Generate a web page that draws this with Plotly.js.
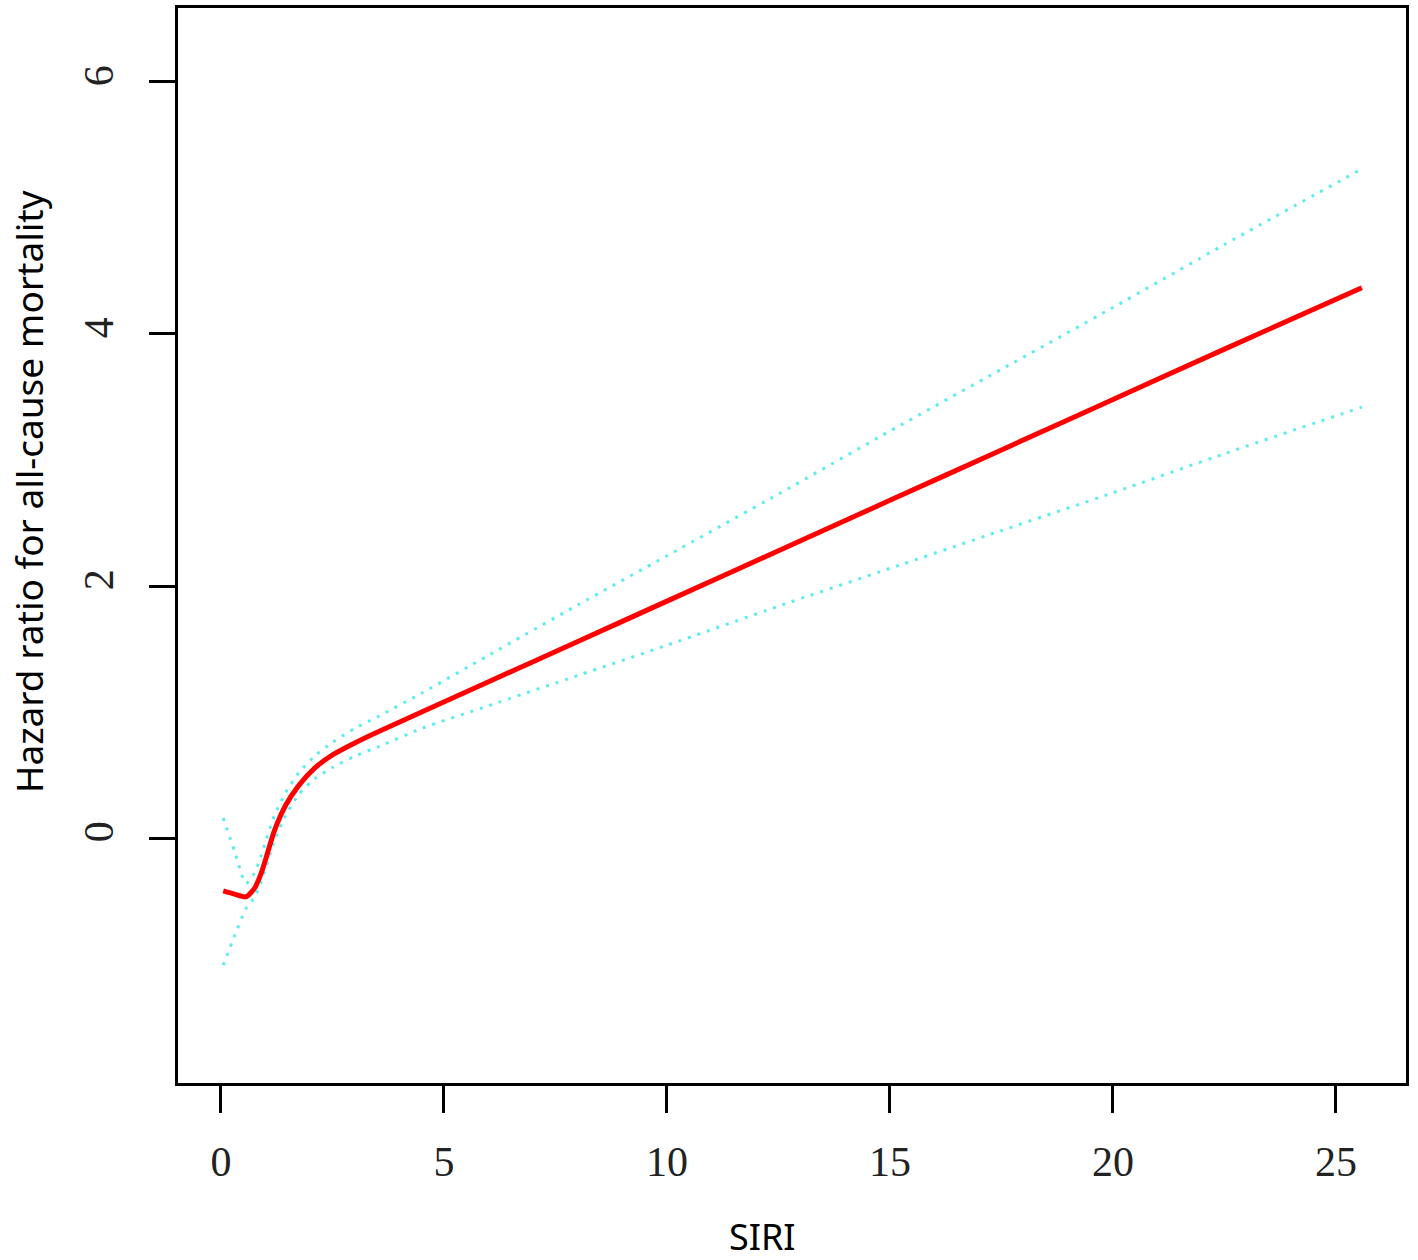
<!DOCTYPE html>
<html>
<head>
<meta charset="utf-8">
<script src="https://cdn.plot.ly/plotly-3.0.1.min.js"></script>
<style>html,body{margin:0;padding:0;background:#fff;}#chart{width:1418px;height:1260px;}</style>
</head>
<body>
<div id="chart"></div>
<script>
// SIRI values
const siri = [0.05, 0.3, 0.56, 0.75, 0.9, 1.0, 1.2, 1.45, 1.75, 2.1, 2.5, 3.0, 3.5, 4.5, 6, 8, 10, 12.5, 15, 17.5, 20, 22.5, 25.58];
// Hazard ratio estimate
const hr = [-0.42, -0.445, -0.466, -0.40, -0.28, -0.17, 0.06, 0.26, 0.42, 0.555, 0.66, 0.755, 0.84, 1.0, 1.24, 1.56, 1.88, 2.28, 2.68, 3.08, 3.48, 3.88, 4.367];
// Upper confidence bound
const upper = [0.16, -0.1, -0.36, -0.28, -0.14, -0.03, 0.18, 0.36, 0.52, 0.65, 0.76, 0.87, 0.96, 1.15, 1.45, 1.85, 2.24, 2.73, 3.23, 3.72, 4.21, 4.71, 5.31];
// Lower confidence bound
const lower = [-1.01, -0.78, -0.56, -0.47, -0.35, -0.24, -0.02, 0.18, 0.35, 0.47, 0.56, 0.65, 0.72, 0.87, 1.05, 1.29, 1.53, 1.84, 2.14, 2.44, 2.74, 3.05, 3.42];
const xTicks = [0, 5, 10, 15, 20, 25];
const yTicks = [0, 2, 4, 6];
const xTitle = "SIRI";
const yTitle = "Hazard ratio for all-cause mortality";

const ciLine = {color: '#5fecec', width: 3, dash: '3px,7px', shape: 'spline', smoothing: 0.6};
const traces = [
  {x: siri, y: upper, mode: 'lines', line: ciLine, hoverinfo: 'skip', name: 'Upper'},
  {x: siri, y: lower, mode: 'lines', line: ciLine, hoverinfo: 'skip', name: 'Lower'},
  {x: siri, y: hr, mode: 'lines', line: {color: '#ff0000', width: 5, shape: 'spline', smoothing: 0.6}, name: 'HR'}
];
const tickFont = {family: 'Liberation Serif, serif', size: 42, color: '#222'};
const layout = {
  width: 1418, height: 1260,
  margin: {l: 178, r: 12, t: 8, b: 177},
  paper_bgcolor: '#fff', plot_bgcolor: '#fff',
  showlegend: false,
  xaxis: {
    range: [-0.964, 26.57], tickvals: xTicks, ticktext: xTicks.map(String),
    ticks: 'outside', ticklen: 27, tickwidth: 3, tickcolor: '#000',
    showline: true, mirror: true, linewidth: 3, linecolor: '#000',
    showgrid: false, zeroline: false, tickfont: tickFont, ticklabelstandoff: 13
  },
  yaxis: {
    range: [-1.944, 6.587], tickvals: yTicks, ticktext: yTicks.map(String),
    ticks: 'outside', ticklen: 26, tickwidth: 3, tickcolor: '#000',
    showline: true, mirror: true, linewidth: 3, linecolor: '#000',
    showgrid: false, zeroline: false, tickfont: tickFont, tickangle: -90, ticklabelstandoff: 19
  },
  annotations: [
    {text: xTitle, xref: 'paper', yref: 'paper', x: (762-178)/1228, y: -(1236-1083)/1075, xanchor: 'center', yanchor: 'middle', showarrow: false, font: {family: 'Noto Sans, sans-serif', size: 36, color: '#000'}},
    {text: yTitle, xref: 'paper', yref: 'paper', x: -(178-28)/1228, y: (1083-492)/1075, xanchor: 'center', yanchor: 'middle', textangle: -90, showarrow: false, font: {family: 'Noto Sans, sans-serif', size: 37, color: '#000'}}
  ]
};
Plotly.newPlot('chart', traces, layout, {displayModeBar: false, staticPlot: true});
</script>
</body>
</html>
